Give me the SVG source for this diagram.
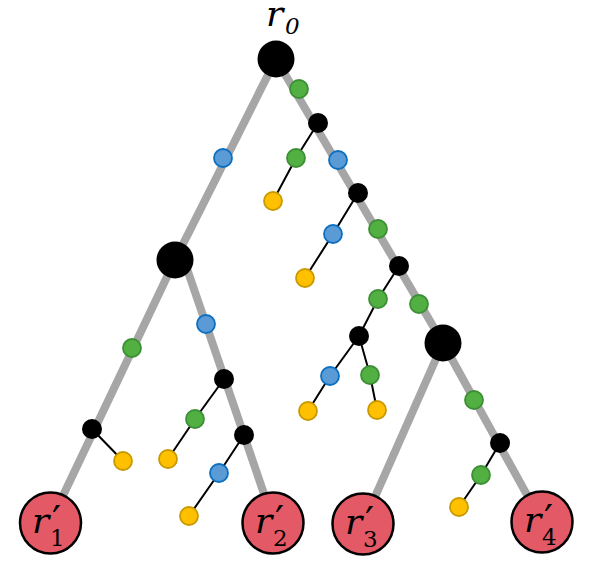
<svg xmlns="http://www.w3.org/2000/svg" width="591" height="567" viewBox="0 0 591 567">
<style>
.trunk{stroke:#a6a6a6;stroke-width:8;fill:none}
.thin{stroke:#000;stroke-width:2;fill:none}
.big{fill:#000}
.blk{fill:#000}
.g{fill:#52b043;stroke:#3d8f35;stroke-width:1.8}
.b{fill:#5b9bd5;stroke:#0b6fc2;stroke-width:1.8}
.y{fill:#ffc000;stroke:#c99a00;stroke-width:1.8}
.leaf{fill:#e35a66;stroke:#000;stroke-width:2.5}
.lbl{font-family:"DejaVu Serif","Liberation Serif",serif;fill:#000}
.it{font-style:italic}
.r{font-size:36px;font-style:italic}
.p{font-size:40px}
.s{font-size:23px}
</style>
<rect width="591" height="567" fill="#fff"/>
<g id="connectors">
<line class="trunk" x1="276" y1="59" x2="175" y2="260"/>
<line class="trunk" x1="276" y1="59" x2="443" y2="343"/>
<line class="trunk" x1="175" y1="260" x2="50" y2="523"/>
<line class="trunk" x1="184" y1="260" x2="274" y2="523"/>
<line class="trunk" x1="443" y1="343" x2="363" y2="524"/>
<line class="trunk" x1="443" y1="343" x2="542" y2="522"/>
<polyline class="thin" points="318,123 296,158 273,201"/>
<polyline class="thin" points="358,193 333,234 305,278"/>
<polyline class="thin" points="399,266 378,299 359,336"/>
<polyline class="thin" points="359,336 330,376 308,411"/>
<polyline class="thin" points="359,336 370,375 377,410"/>
<polyline class="thin" points="92,429 123,461"/>
<polyline class="thin" points="224,379 195,419 168,459"/>
<polyline class="thin" points="244,435 219,473 189,516"/>
<polyline class="thin" points="500,443 481,475 459,507"/>
</g>
<g id="root"><circle class="big" cx="276" cy="59" r="18.5"/>
<text class="lbl" x="266" y="26"><tspan class="r">r</tspan><tspan class="s it" x="285" y="34">0</tspan></text></g>
<g id="hubL"><circle class="big" cx="175" cy="260" r="18.5"/></g>
<g id="hubR"><circle class="big" cx="443" cy="343" r="18.5"/></g>
<g id="k1"><circle class="blk" cx="318" cy="123" r="10"/></g>
<g id="k2"><circle class="blk" cx="358" cy="193" r="10"/></g>
<g id="k3"><circle class="blk" cx="399" cy="266" r="10"/></g>
<g id="k4"><circle class="blk" cx="359" cy="336" r="10"/></g>
<g id="k5"><circle class="blk" cx="92" cy="429" r="10"/></g>
<g id="k6"><circle class="blk" cx="224" cy="379" r="10"/></g>
<g id="k7"><circle class="blk" cx="244" cy="435" r="10"/></g>
<g id="k8"><circle class="blk" cx="500" cy="443" r="10"/></g>
<g id="g1"><circle class="g" cx="299" cy="89" r="9"/></g>
<g id="g2"><circle class="g" cx="296" cy="158" r="9"/></g>
<g id="g3"><circle class="g" cx="378" cy="229" r="9"/></g>
<g id="g4"><circle class="g" cx="378" cy="299" r="9"/></g>
<g id="g5"><circle class="g" cx="419" cy="304" r="9"/></g>
<g id="g6"><circle class="g" cx="370" cy="375" r="9"/></g>
<g id="g7"><circle class="g" cx="132" cy="348" r="9"/></g>
<g id="g8"><circle class="g" cx="195" cy="419" r="9"/></g>
<g id="g9"><circle class="g" cx="474" cy="400" r="9"/></g>
<g id="g10"><circle class="g" cx="481" cy="475" r="9"/></g>
<g id="b1"><circle class="b" cx="223" cy="158" r="9"/></g>
<g id="b2"><circle class="b" cx="338" cy="160" r="9"/></g>
<g id="b3"><circle class="b" cx="333" cy="234" r="9"/></g>
<g id="b4"><circle class="b" cx="330" cy="376" r="9"/></g>
<g id="b5"><circle class="b" cx="206" cy="324" r="9"/></g>
<g id="b6"><circle class="b" cx="219" cy="473" r="9"/></g>
<g id="y1"><circle class="y" cx="273" cy="201" r="9"/></g>
<g id="y2"><circle class="y" cx="305" cy="278" r="9"/></g>
<g id="y3"><circle class="y" cx="308" cy="411" r="9"/></g>
<g id="y4"><circle class="y" cx="377" cy="410" r="9"/></g>
<g id="y5"><circle class="y" cx="123" cy="461" r="9"/></g>
<g id="y6"><circle class="y" cx="168" cy="459" r="9"/></g>
<g id="y7"><circle class="y" cx="189" cy="516" r="9"/></g>
<g id="y8"><circle class="y" cx="459" cy="507" r="9"/></g>
<g id="leaf1"><circle class="leaf" cx="50.5" cy="523" r="30.5"/>
<text class="lbl" x="32" y="533"><tspan class="r">r</tspan><tspan class="p" x="52" y="534">′</tspan><tspan class="s" x="50" y="546">1</tspan></text></g>
<g id="leaf2"><circle class="leaf" cx="273" cy="523" r="30.5"/>
<text class="lbl" x="255" y="533"><tspan class="r">r</tspan><tspan class="p" x="275" y="534">′</tspan><tspan class="s" x="273" y="546">2</tspan></text></g>
<g id="leaf3"><circle class="leaf" cx="363" cy="524" r="30.5"/>
<text class="lbl" x="345" y="534"><tspan class="r">r</tspan><tspan class="p" x="365" y="535">′</tspan><tspan class="s" x="363" y="547">3</tspan></text></g>
<g id="leaf4"><circle class="leaf" cx="542" cy="522" r="30.5"/>
<text class="lbl" x="524" y="532"><tspan class="r">r</tspan><tspan class="p" x="544" y="533">′</tspan><tspan class="s" x="542" y="545">4</tspan></text></g>
</svg>
